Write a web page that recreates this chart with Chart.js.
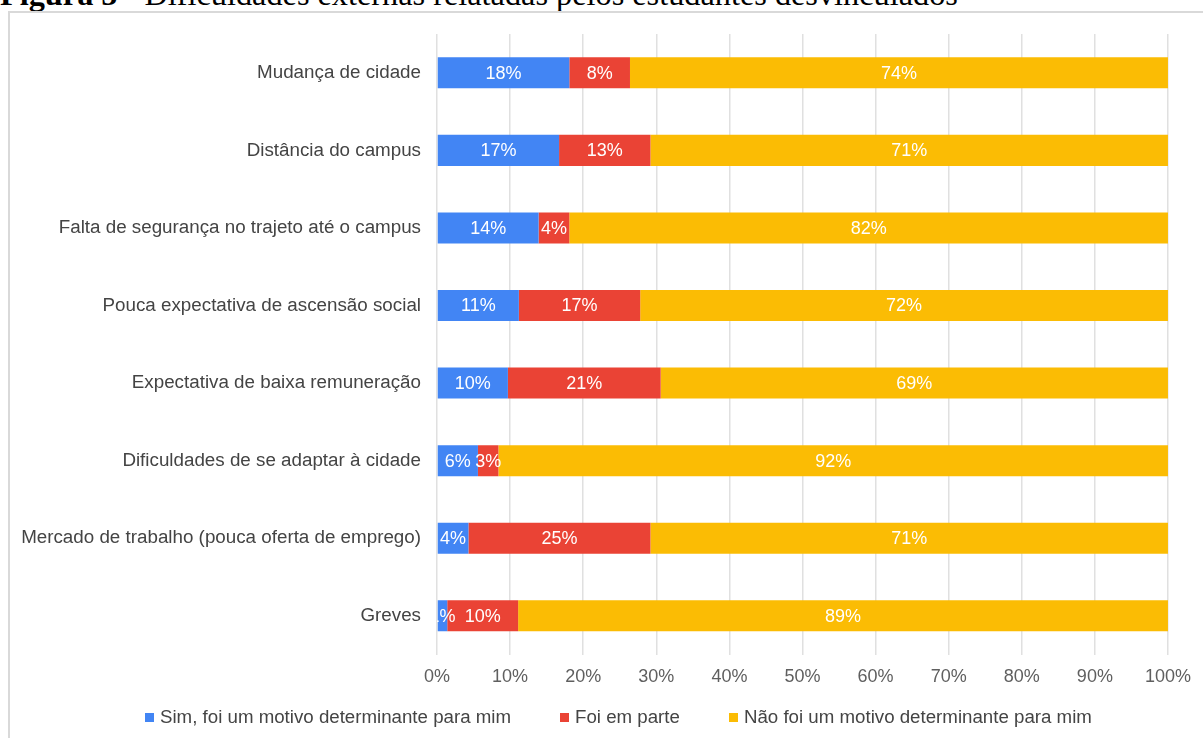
<!DOCTYPE html>
<html>
<head>
<meta charset="utf-8">
<script src="https://cdn.jsdelivr.net/npm/chart.js@4"></script>
<style>
    html, body { margin: 0; padding: 0; background: #fff; overflow: hidden; }
    body { width: 1203px; height: 738px; position: relative; }
    #caption {
        position: absolute; left: 0; top: -22px; white-space: nowrap;
        font-family: "Liberation Serif", "DejaVu Serif", serif;
        font-size: 32.3px; line-height: 32px; color: #000;
    }
    #frame {
        position: absolute; left: 8px; top: 11px; width: 1300px; height: 800px;
        border-left: 2px solid #d9d9d9; border-top: 2px solid #d9d9d9;
    }
    #wrap { position: absolute; left: 0; top: 0; width: 1203px; height: 738px; }
    #legend {
        position: absolute; left: 145px; top: 706px; height: 22px;
        display: flex; align-items: center; white-space: nowrap;
        font-family: "Liberation Sans", Arial, sans-serif; font-size: 18.7px; color: #444;
    }
    #legend .item { display: flex; align-items: center; margin-right: 49px; }
    #legend .box { width: 9px; height: 9px; margin-right: 6px; }
</style>
</head>
<body>
<div id="caption"><b>Figura 5</b> - Dificuldades externas relatadas pelos estudantes desvinculados</div>
<div id="frame"></div>
<div id="wrap"><canvas id="chart"></canvas></div>
<div id="legend"></div>
<script>
// Chart data
const categories = [
    'Mudança de cidade',
    'Distância do campus',
    'Falta de segurança no trajeto até o campus',
    'Pouca expectativa de ascensão social',
    'Expectativa de baixa remuneração',
    'Dificuldades de se adaptar à cidade',
    'Mercado de trabalho (pouca oferta de emprego)',
    'Greves'
];
const seriesNames = [
    'Sim, foi um motivo determinante para mim',
    'Foi em parte',
    'Não foi um motivo determinante para mim'
];
const seriesColors = ['#4285F4', '#EA4335', '#FBBC04'];
const simValues = [18.1, 16.7, 13.9, 11.2, 9.7, 5.6, 4.3, 1.4];
const parteValues = [8.3, 12.5, 4.2, 16.6, 20.9, 2.8, 24.9, 9.7];
const naoValues = [73.6, 70.8, 81.9, 72.2, 69.4, 91.6, 70.8, 88.9];
const xTicks = [0, 10, 20, 30, 40, 50, 60, 70, 80, 90, 100];

const FONT = '"Liberation Sans", Arial, sans-serif';

// White percentage labels inside each bar segment
const barLabels = {
    id: 'barLabels',
    afterDatasetsDraw(chart) {
        const ctx = chart.ctx;
        const area = chart.chartArea;
        ctx.save();
        ctx.beginPath();
        ctx.rect(area.left, area.top, area.right - area.left, area.bottom - area.top);
        ctx.clip();
        ctx.fillStyle = '#ffffff';
        ctx.font = '18px ' + FONT;
        ctx.textAlign = 'center';
        ctx.textBaseline = 'middle';
        chart.data.datasets.forEach((ds, i) => {
            const meta = chart.getDatasetMeta(i);
            meta.data.forEach((bar, j) => {
                const cx = (bar.x + bar.base) / 2;
                ctx.fillText(Math.round(ds.data[j]) + '%', cx, bar.y + 1);
            });
        });
        ctx.restore();
    }
};

const ctx = document.getElementById('chart').getContext('2d');
window.barChart = new Chart(ctx, {
    type: 'bar',
    data: {
        labels: categories,
        datasets: [
            { label: seriesNames[0], data: simValues, backgroundColor: seriesColors[0] },
            { label: seriesNames[1], data: parteValues, backgroundColor: seriesColors[1] },
            { label: seriesNames[2], data: naoValues, backgroundColor: seriesColors[2] }
        ]
    },
    options: {
        indexAxis: 'y',
        responsive: true,
        maintainAspectRatio: false,
        animation: false,
        datasets: {
            bar: { barPercentage: 0.4, categoryPercentage: 1.0, borderWidth: 0 }
        },
        layout: {
            padding: { left: 0, right: 33, top: 34, bottom: 0 }
        },
        plugins: {
            legend: { display: false },
            tooltip: { enabled: false }
        },
        scales: {
            x: {
                stacked: true,
                min: 0,
                max: 100,
                afterBuildTicks: function(scale) {
                    scale.ticks = xTicks.map(v => ({ value: v }));
                },
                afterFit: function(scale) { scale.height = 83.4; },
                ticks: {
                    callback: function(value) { return value + '%'; },
                    font: { size: 18, family: FONT },
                    color: '#5f5f5f',
                    padding: 12,
                    maxRotation: 0
                },
                grid: { color: '#e0e0e0', lineWidth: 1.5, drawTicks: false },
                border: { display: false }
            },
            y: {
                stacked: true,
                afterFit: function(scale) { scale.width = 437; },
                ticks: {
                    font: { size: 18.8, family: FONT },
                    color: '#444',
                    padding: 16
                },
                grid: { display: false, drawTicks: false },
                border: { display: false }
            }
        }
    },
    plugins: [barLabels]
});

// Legend (HTML, built from the series names/colours)
const legendEl = document.getElementById('legend');
seriesNames.forEach((name, i) => {
    const item = document.createElement('div');
    item.className = 'item';
    const box = document.createElement('span');
    box.className = 'box';
    box.style.background = seriesColors[i];
    item.appendChild(box);
    item.appendChild(document.createTextNode(name));
    legendEl.appendChild(item);
});
</script>
</body>
</html>
